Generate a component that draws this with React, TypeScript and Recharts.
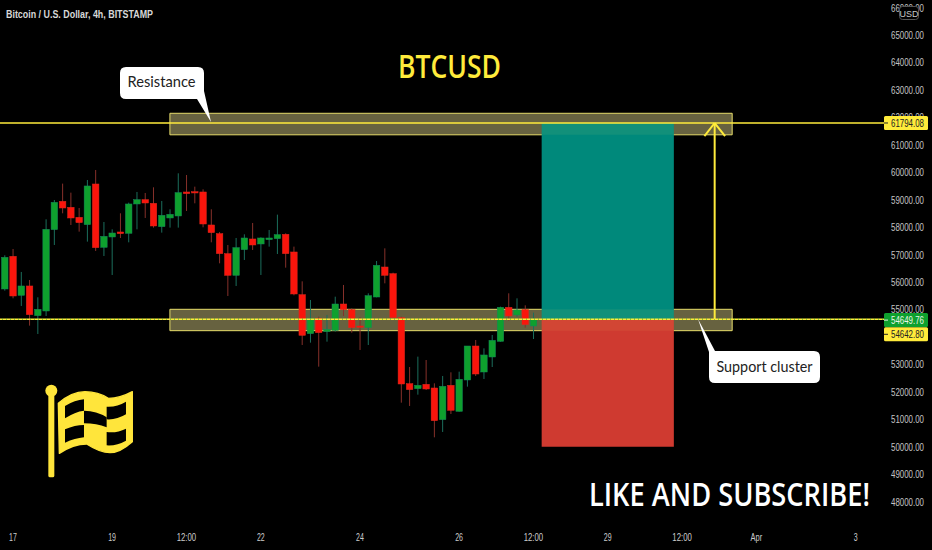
import React from 'react';
import { ComposedChart, Bar, XAxis, YAxis, ReferenceArea, ReferenceLine } from 'recharts';

const opens = [55747, 56937, 55517, 55857, 54776, 54946, 57909, 58941, 58722, 58358, 58091, 59572, 57265, 57642, 57824, 57775, 58844, 59002, 58868, 58018, 58334, 58407, 59281, 59293, 59281, 58079, 57763, 57034, 56245, 57180, 57569, 57387, 57544, 57581, 57739, 57095, 55540, 54120, 54678, 54193, 54241, 55200, 54994, 54399, 54338, 55455, 56548, 56305, 54703, 52298, 52116, 52274, 52140, 50987, 52238, 51290, 52432, 53670, 52723, 53270, 53840, 55079, 54800, 54994, 54399];
const highs = [56974, 57204, 56367, 56075, 55444, 58285, 58989, 59585, 59257, 58698, 59718, 60082, 58188, 57921, 58504, 58892, 59281, 59245, 59451, 58953, 58650, 59961, 59900, 59475, 59378, 58650, 57824, 57350, 57605, 57739, 58152, 57630, 57897, 58455, 57775, 57290, 56026, 55346, 54739, 54800, 55467, 55893, 55043, 54715, 55589, 56767, 57228, 56342, 54739, 52905, 53282, 53160, 52310, 52578, 52711, 52735, 53670, 53889, 53585, 54071, 55103, 55589, 55407, 55152, 54885];
const lows = [55687, 55407, 55128, 54412, 54108, 54764, 57350, 58504, 58079, 57836, 57472, 57132, 56949, 56257, 57605, 57447, 57921, 58334, 57982, 57800, 57982, 57982, 58589, 58868, 57994, 57447, 56682, 55492, 55857, 56804, 57168, 56257, 57290, 57022, 56524, 55517, 53707, 53792, 52918, 53828, 54193, 54763, 54156, 53525, 53707, 55443, 55953, 54678, 51606, 51485, 51898, 52068, 50343, 50538, 51193, 51278, 52189, 52578, 52468, 52905, 53828, 54593, 54739, 54338, 53925];
const closes = [56901, 55492, 55857, 54812, 55007, 57921, 58905, 58698, 58334, 58164, 59500, 57253, 57666, 57787, 57763, 58844, 59002, 58880, 58042, 58431, 58467, 59257, 59220, 59245, 58115, 57800, 57034, 56245, 57253, 57605, 57350, 57605, 57605, 57727, 57034, 55565, 54059, 54678, 54156, 54278, 55200, 54994, 54338, 54350, 55504, 56609, 56245, 54703, 52286, 52080, 52238, 52104, 50950, 52201, 51327, 52456, 53670, 52650, 53343, 53877, 55079, 54763, 54982, 54448, 54654];

// 54000 sits fully behind the price tags in the original
const priceTicks = [48000, 49000, 50000, 51000, 52000, 53000, 55000, 56000, 57000, 58000, 59000, 60000, 61000, 62000, 63000, 64000, 65000, 66000];
const timeTicks = [1, 13, 22, 31, 43, 55, 64, 73, 82, 91, 103];
const timeLabels = ['17', '19', '12:00', '22', '24', '26', '12:00', '29', '12:00', 'Apr', '3'];

const candles = opens.map((open, i) => ({ idx: i, open, high: highs[i], low: lows[i], close: closes[i] }));

const YELLOW = '#ffeb3b';
const GREEN = '#0ea02e';
const RED = '#f9150c';
const sans = '"Liberation Sans", sans-serif';
const heavy = '"Open Sans", sans-serif';
const PLOT_H = 525;
const Y_MIN = 47149;
const Y_MAX = 66275;

const Candle = (props: any) => {
  const { x, y, width, height, payload } = props;
  const up = payload.close >= payload.open;
  const perUnit = height / (payload.high - payload.low);
  const top = y + (payload.high - Math.max(payload.open, payload.close)) * perUnit;
  const bodyH = Math.max(Math.abs(payload.close - payload.open) * perUnit, 1);
  const mid = x + width / 2;
  return (
    <g>
      <line x1={mid} x2={mid} y1={y} y2={y + height} stroke={up ? '#1b6e5c' : '#86302a'} strokeWidth={1} />
      <rect x={x} y={top} width={width} height={bodyH} fill={up ? GREEN : RED} stroke={up ? '#128a5a' : '#e0281c'} strokeWidth={0.5} />
    </g>
  );
};

const PriceTick = (props: any) => (
  <text x={891} y={props.y + 4} fontFamily={sans} fontSize={11} fill="#c4c4c4" textLength={33} lengthAdjust="spacingAndGlyphs">
    {props.payload.value.toFixed(2)}
  </text>
);

const TimeTick = (props: any) => {
  const label = timeLabels[timeTicks.indexOf(props.payload.value)];
  return (
    <text x={props.x} y={541} textAnchor="middle" fontFamily={sans} fontSize={11} fill="#cccccc" textLength={label.length * 3.9} lengthAdjust="spacingAndGlyphs">
      {label}
    </text>
  );
};

const priceY = (v: number) => (PLOT_H * (Y_MAX - v)) / (Y_MAX - Y_MIN);

const PriceTag = ({ value, fill, color, dy = 0 }: { value: number; fill: string; color: string; dy?: number }) => {
  const cy = priceY(value) + dy;
  return (
    <g>
      <rect x={884} y={cy - 7} width={44} height={14} rx={1.5} fill={fill} />
      <line x1={884} x2={888} y1={cy} y2={cy} stroke={color} />
      <text x={891} y={cy + 4} fontFamily={sans} fontSize={11} fill={color} textLength={33} lengthAdjust="spacingAndGlyphs">{value.toFixed(2)}</text>
    </g>
  );
};

const Flag = () => (
  <g transform="translate(0 370) scale(0.3333)" fill="#ffe53b">
    <circle cx={154} cy={62} r={18} />
    <rect x={145} y={62} width={18} height={260} rx={5} />
    <path d="M175 100 Q215 65 255 65 Q295 65 325 85 Q360 85 397 65 L397 215 Q360 248 330 248 Q300 248 260 222 Q220 222 178 250 Z" stroke="#ffe53b" strokeWidth={4} strokeLinejoin="round" />
    <g fill="#000">
      <path d="M195 108 Q225 90 252 88 L252 122 Q225 125 195 145 Z" />
      <path d="M195 178 Q225 165 252 165 L252 202 Q225 205 195 218 Z" />
      <path d="M252 122 Q290 122 320 142 L320 172 Q290 160 252 160 Z" />
      <path d="M320 110 Q350 112 378 95 L378 133 Q350 150 320 148 Z" />
      <path d="M320 186 Q350 190 378 176 L378 212 Q350 228 320 226 Z" />
    </g>
  </g>
);

export default function App() {
  return (
    <div style={{ position: 'fixed', left: 0, top: 0, width: 932, height: 550, background: '#000', overflow: 'hidden' }}>
      <ComposedChart width={932} height={550} data={candles} margin={{ top: 0, right: 0, bottom: 0, left: 0 }}>
        <XAxis
          dataKey="idx"
          type="number"
          domain={[-0.565, 106.8]}
          ticks={timeTicks}
          interval={0}
          height={25}
          axisLine={false}
          tickLine={false}
          tick={TimeTick}
        />
        <YAxis
          orientation="right"
          type="number"
          domain={[Y_MIN, Y_MAX]}
          ticks={priceTicks}
          interval={0}
          width={45}
          axisLine={false}
          tickLine={false}
          tick={PriceTick}
        />

        <ReferenceArea x1={20} x2={88.06} y1={61364} y2={62148} fill="#676240" fillOpacity={1} stroke="#e6dc6a" strokeWidth={1} />
        <ReferenceArea x1={20} x2={88.06} y1={54228} y2={55007} fill="#676240" fillOpacity={1} stroke="#e6dc6a" strokeWidth={1} />
        <ReferenceArea x1={65} x2={81} y1={54650} y2={61794} fill="#00897b" fillOpacity={1} stroke="none" />
        <ReferenceArea x1={65} x2={81} y1={50000} y2={54650} fill="#cf3a30" fillOpacity={1} stroke="none" />
        <ReferenceArea x1={65} x2={81} y1={61364} y2={61794} fill="#fff176" fillOpacity={0.07} stroke="none" />
        <ReferenceArea x1={65} x2={81} y1={54228} y2={55007} fill="#fff176" fillOpacity={0.07} stroke="none" />

        <Bar dataKey={(d: any) => [d.low, d.high]} barSize={6.5} shape={Candle} isAnimationActive={false} />

        <ReferenceLine y={61794.08} stroke={YELLOW} strokeWidth={1.5} />
        <ReferenceLine y={54642.8} stroke={YELLOW} strokeWidth={1.5} />
        <ReferenceLine y={54649.76} stroke={GREEN} strokeWidth={0.8} strokeDasharray="1 3" />

        <ReferenceLine segment={[{ x: 85.94, y: 54650 }, { x: 85.94, y: 61794 }]} stroke={YELLOW} strokeWidth={2} />
        <ReferenceLine segment={[{ x: 84.7, y: 61320 }, { x: 85.94, y: 61794 }]} stroke={YELLOW} strokeWidth={2} />
        <ReferenceLine segment={[{ x: 87.2, y: 61320 }, { x: 85.94, y: 61794 }]} stroke={YELLOW} strokeWidth={2} />
      </ComposedChart>

      {/* annotations sit above the chart's reference areas */}
      <svg width={932} height={550} style={{ position: 'absolute', left: 0, top: 0 }}>
        <text x={6} y={18} fontFamily={sans} fontWeight={700} fontSize={11} fill="#d8d8d8" textLength={147} lengthAdjust="spacingAndGlyphs">Bitcoin / U.S. Dollar, 4h, BITSTAMP</text>

        <text x={398} y={78} fontFamily={heavy} fontWeight={600} fontSize={33} fill={YELLOW} textLength={103} lengthAdjust="spacingAndGlyphs">BTCUSD</text>
        <text x={589} y={505.5} fontFamily={heavy} fontWeight={600} fontSize={33} fill="#fff" textLength={281} lengthAdjust="spacingAndGlyphs">LIKE AND SUBSCRIBE!</text>

        <path d="M126 67 H198 Q204 67 204 73 V91 L211 122 L197 99 H126 Q120 99 120 93 V73 Q120 67 126 67 Z" fill="#fff" />
        <text x={127.5} y={87} fontFamily="Lato" fontSize={15} fill="#222" textLength={68} lengthAdjust="spacingAndGlyphs">Resistance</text>

        <path d="M715 351 H814 Q820 351 820 357 V377 Q820 383 814 383 H715 Q709 383 709 377 V352 L698 319 Z" fill="#fff" />
        <text x={716.5} y={371.5} fontFamily="Lato" fontSize={15} fill="#222" textLength={96} lengthAdjust="spacingAndGlyphs">Support cluster</text>

        <PriceTag value={61794.08} fill={YELLOW} color="#222" />
        <PriceTag value={54642.8} fill={YELLOW} color="#222" dy={15} />
        <PriceTag value={54649.76} fill={GREEN} color="#e8f5e8" dy={1} />

        <rect x={899.5} y={6.5} width={19} height={13} rx={3} fill="#000" stroke="#555" />
        <text x={909} y={16.5} textAnchor="middle" fontFamily={sans} fontSize={9} fill="#c8c8c8">USD</text>

        <Flag />
      </svg>
    </div>
  );
}
